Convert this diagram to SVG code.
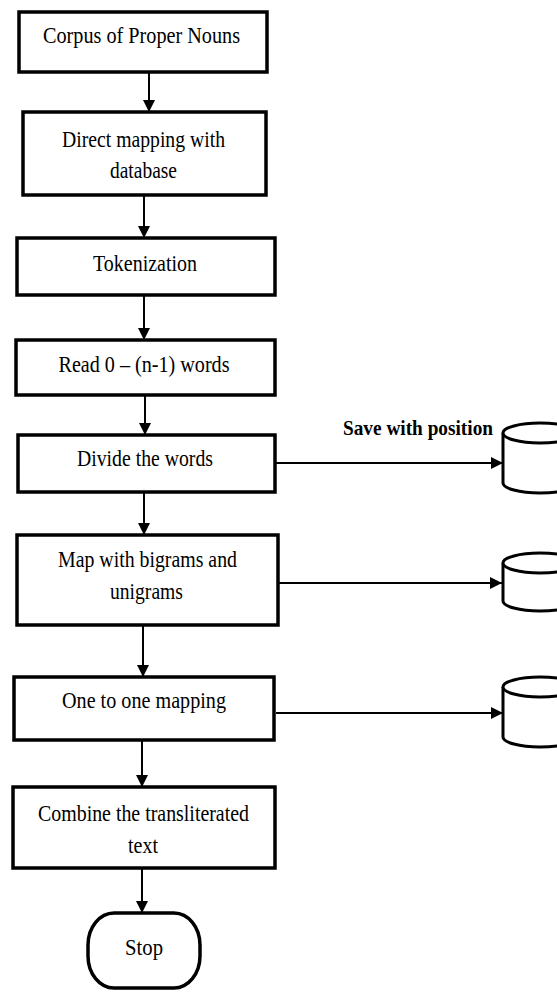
<svg xmlns="http://www.w3.org/2000/svg" width="557" height="992" viewBox="0 0 557 992">
  <style>
    .box { fill: #fff; stroke: #000; stroke-width: 3.5; }
    .db { fill: #fff; stroke: #000; stroke-width: 3; }
    .lbl { font-family: "Liberation Serif", "Times New Roman", serif; font-size: 23px; fill: #000; text-anchor: middle; }
    .note { font-family: "Liberation Serif", "Times New Roman", serif; font-size: 22px; font-weight: bold; fill: #000; }
    .wire { fill: none; stroke: #000; stroke-width: 2; marker-end: url(#head); }
  </style>
  <defs>
    <marker id="head" viewBox="0 0 10 10" refX="10" refY="5" markerWidth="6" markerHeight="6" markerUnits="strokeWidth" orient="auto">
      <path d="M0,0 L10,5 L0,10 Z" fill="#000"/>
    </marker>
  </defs>

  <!-- flow connectors -->
  <g id="connectors">
    <path class="wire" d="M149,72 V112"/>
    <path class="wire" d="M144,195 V238"/>
    <path class="wire" d="M144,295 V340"/>
    <path class="wire" d="M145,395 V435"/>
    <path class="wire" d="M144,492 V535"/>
    <path class="wire" d="M143,625 V677"/>
    <path class="wire" d="M142,740 V787"/>
    <path class="wire" d="M142,868 V913"/>
    <path class="wire" d="M276,463 H503"/>
    <path class="wire" d="M279,583 H502"/>
    <path class="wire" d="M276,713 H503"/>
  </g>

  <g id="corpus">
    <rect class="box" x="19" y="12" width="248" height="60"/>
    <text class="lbl" x="141.5" y="43" textLength="197" lengthAdjust="spacingAndGlyphs">Corpus of Proper Nouns</text>
  </g>

  <g id="direct-mapping">
    <rect class="box" x="23" y="112" width="243" height="83"/>
    <text class="lbl" x="143.5" y="147" textLength="163" lengthAdjust="spacingAndGlyphs">Direct mapping with</text>
    <text class="lbl" x="143.5" y="178" textLength="67" lengthAdjust="spacingAndGlyphs">database</text>
  </g>

  <g id="tokenization">
    <rect class="box" x="17" y="238" width="258" height="57"/>
    <text class="lbl" x="145" y="271" textLength="104" lengthAdjust="spacingAndGlyphs">Tokenization</text>
  </g>

  <g id="read-words">
    <rect class="box" x="16" y="340" width="259" height="55"/>
    <text class="lbl" x="144" y="372" textLength="171" lengthAdjust="spacingAndGlyphs">Read 0 – (n-1) words</text>
  </g>

  <g id="divide-words">
    <rect class="box" x="18" y="435" width="257" height="57"/>
    <text class="lbl" x="145" y="466" textLength="136" lengthAdjust="spacingAndGlyphs">Divide the words</text>
  </g>

  <g id="map-ngrams">
    <rect class="box" x="17" y="535" width="261" height="90"/>
    <text class="lbl" x="147.5" y="567" textLength="179" lengthAdjust="spacingAndGlyphs">Map with bigrams and</text>
    <text class="lbl" x="146.5" y="599" textLength="73" lengthAdjust="spacingAndGlyphs">unigrams</text>
  </g>

  <g id="one-to-one">
    <rect class="box" x="14" y="677" width="260" height="63"/>
    <text class="lbl" x="144" y="708" textLength="164" lengthAdjust="spacingAndGlyphs">One to one mapping</text>
  </g>

  <g id="combine">
    <rect class="box" x="13" y="787" width="262" height="81"/>
    <text class="lbl" x="143.5" y="821" textLength="211" lengthAdjust="spacingAndGlyphs">Combine the transliterated</text>
    <text class="lbl" x="143" y="853" textLength="30" lengthAdjust="spacingAndGlyphs">text</text>
  </g>

  <g id="stop">
    <rect class="box" x="88" y="913" width="112" height="75" rx="26" ry="32"/>
    <text class="lbl" x="144" y="955" textLength="38" lengthAdjust="spacingAndGlyphs">Stop</text>
  </g>

  <g id="save-label">
    <text class="note" x="343" y="435" textLength="150" lengthAdjust="spacingAndGlyphs">Save with position</text>
  </g>

  <!-- storage cylinders -->
  <g id="store-positions">
    <path class="db" d="M503,433 V483 A37,10 0 0 0 577,483 V433"/>
    <ellipse class="db" cx="540" cy="433" rx="37" ry="10"/>
  </g>

  <g id="store-ngrams">
    <path class="db" d="M503,563 V601 A37,10 0 0 0 577,601 V563"/>
    <ellipse class="db" cx="540" cy="563" rx="37" ry="10"/>
  </g>

  <g id="store-mapping">
    <path class="db" d="M503,687 V737 A37,10 0 0 0 577,737 V687"/>
    <ellipse class="db" cx="540" cy="687" rx="37" ry="10"/>
  </g>
</svg>
